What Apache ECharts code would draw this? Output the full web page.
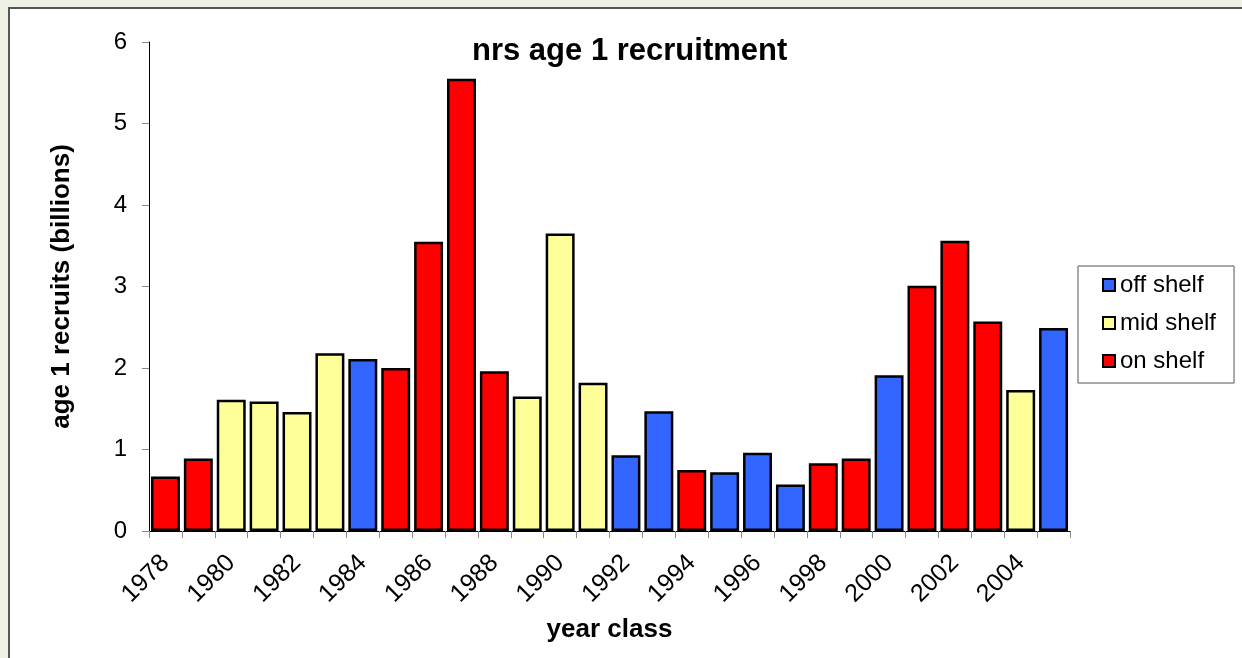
<!DOCTYPE html>
<html>
<head>
<meta charset="utf-8">
<title>nrs age 1 recruitment</title>
<script src="https://cdn.jsdelivr.net/npm/echarts@6/dist/echarts.min.js"></script>
<style>
  html, body { margin: 0; padding: 0; }
  body { width: 1242px; height: 658px; position: relative; overflow: hidden; background: #eef2e4; }
  .sheet {
    position: absolute; left: 8px; top: 7px; width: 1300px; height: 700px;
    background: #fff; border-left: 2px solid #555; border-top: 2px solid #555;
  }
  #chart { position: absolute; left: 0; top: 0; width: 1242px; height: 658px; }
</style>
</head>
<body>
<div class="sheet"></div>
<div id="chart"></div>
<script>
// year classes
const years = ['1978', '1979', '1980', '1981', '1982', '1983', '1984', '1985', '1986', '1987',
  '1988', '1989', '1990', '1991', '1992', '1993', '1994', '1995', '1996', '1997',
  '1998', '1999', '2000', '2001', '2002', '2003', '2004', '2005']

// age 1 recruits (billions)
const recruits = [0.67, 0.89, 1.61, 1.59, 1.46, 2.18, 2.11, 2.00, 3.55, 5.55,
  1.96, 1.65, 3.65, 1.82, 0.93, 1.47, 0.75, 0.72, 0.96, 0.57,
  0.83, 0.89, 1.91, 3.01, 3.56, 2.57, 1.73, 2.49]

// shelf position of each year class
const shelf = ['on', 'on', 'mid', 'mid', 'mid', 'mid', 'off', 'on', 'on', 'on',
  'on', 'mid', 'mid', 'mid', 'off', 'off', 'on', 'off', 'off', 'off',
  'on', 'on', 'off', 'on', 'on', 'on', 'mid', 'off']

const groups = ['off', 'mid', 'on']
const groupNames = ['off shelf', 'mid shelf', 'on shelf']
const groupColors = ['#3366ff', '#ffff99', '#ff0000']

const yTicks = [0, 1, 2, 3, 4, 5, 6]

const font = 'Liberation Sans, Arial, sans-serif'
const chart = echarts.init(document.getElementById('chart'))

const series = groups.map((g, k) => ({
  name: groupNames[k],
  type: 'bar',
  stack: 'all',
  barCategoryGap: '12%',
  itemStyle: { color: groupColors[k], borderColor: '#000', borderWidth: 2.5 },
  data: recruits.map((v, i) => (shelf[i] === g ? v : '-'))
}))

chart.setOption({
  backgroundColor: 'transparent',
  animation: false,
  textStyle: { fontFamily: font, color: '#000' },
  title: {
    text: 'nrs age 1 recruitment',
    left: 472,
    top: 36,
    padding: 0,
    textStyle: { fontSize: 31, fontWeight: 'bold', color: '#000', fontFamily: font }
  },
  legend: {
    orient: 'vertical',
    left: 1078,
    top: 266,
    padding: [7, 18, 10, 24],
    itemGap: 14,
    itemWidth: 12,
    itemHeight: 12,
    icon: 'rect',
    borderColor: '#555',
    borderWidth: 1,
    backgroundColor: '#fff',
    data: groupNames,
    textStyle: { fontSize: 24, color: '#000', lineHeight: 24 }
  },
  grid: { left: 149, right: 172, top: 42, bottom: 127 },
  xAxis: {
    type: 'category',
    data: years,
    name: 'year class',
    nameLocation: 'middle',
    nameGap: 86,
    nameTextStyle: { fontSize: 26, fontWeight: 'bold', color: '#000' },
    axisLine: { lineStyle: { color: '#000', width: 1 } },
    axisTick: { show: true, interval: 0, length: 7, lineStyle: { color: '#888' } },
    axisLabel: { interval: 1, rotate: 45, fontSize: 25, color: '#000', margin: 28 }
  },
  yAxis: {
    type: 'value',
    min: yTicks[0],
    max: yTicks[yTicks.length - 1],
    interval: 1,
    name: 'age 1 recruits (billions)',
    nameLocation: 'middle',
    nameGap: 74,
    nameTextStyle: { fontSize: 26, fontWeight: 'bold', color: '#000' },
    splitLine: { show: false },
    axisLine: { show: true, lineStyle: { color: '#000', width: 1 } },
    axisTick: { show: true, length: 7, lineStyle: { color: '#888' } },
    axisLabel: { fontSize: 24, color: '#000', margin: 22 }
  },
  series: series
})
</script>
</body>
</html>
